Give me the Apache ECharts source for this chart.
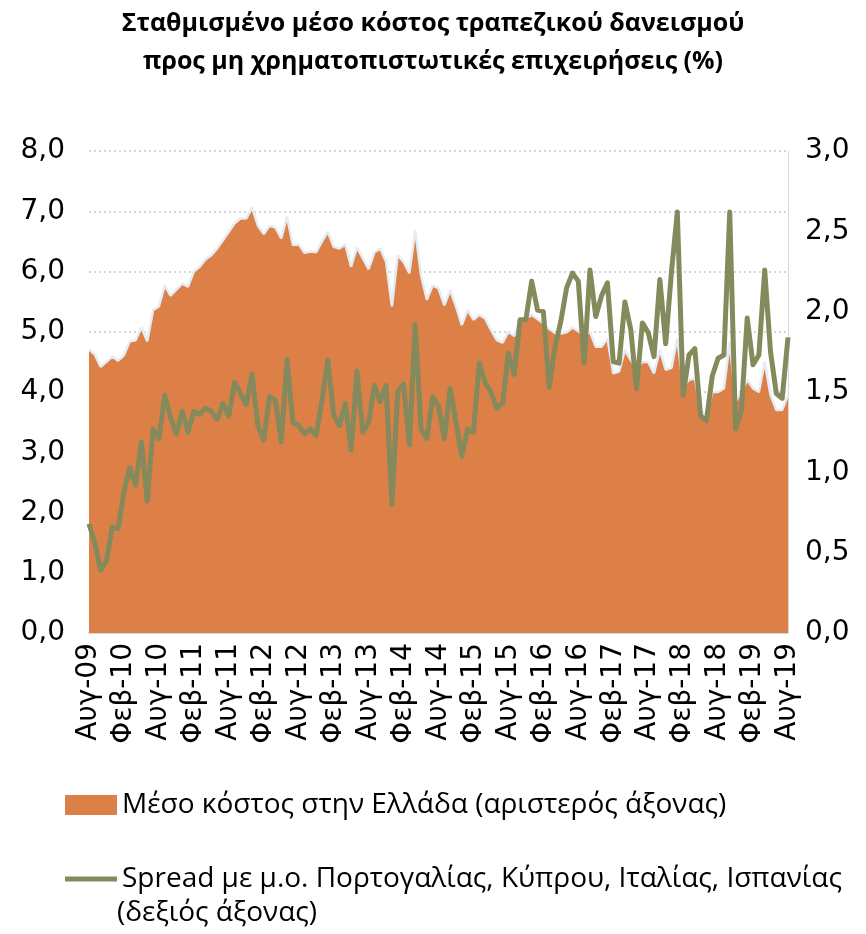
<!DOCTYPE html>
<html>
<head>
<meta charset="utf-8">
<script src="https://cdn.jsdelivr.net/npm/echarts@6/dist/echarts.min.js"></script>
<style>
  html, body { margin: 0; padding: 0; background: #fff; }
  #chart { width: 866px; height: 934px; }
</style>
</head>
<body>
<div id="chart"></div>
<script>
// μήνες (ελληνικές συντομογραφίες)
const months = ['Ιαν', 'Φεβ', 'Μαρ', 'Απρ', 'Μαϊ', 'Ιουν', 'Ιουλ', 'Αυγ', 'Σεπ', 'Οκτ', 'Νοε', 'Δεκ'];

// Αυγ-09 ... Αυγ-19, μηνιαία
const categories = [];
for (let k = 0; k < 121; k++) {
  const m = (7 + k) % 12;
  const y = 9 + Math.floor((7 + k) / 12);
  categories.push(months[m] + '-' + String(y).padStart(2, '0'));
}

// Μέσο κόστος στην Ελλάδα (αριστερός άξονας)
const costGreece = [
  4.71, 4.62, 4.42, 4.50, 4.59, 4.52, 4.61, 4.84, 4.86, 5.07,
  4.84, 5.36, 5.42, 5.77, 5.60, 5.70, 5.80, 5.75, 6.00, 6.08,
  6.20, 6.27, 6.38, 6.52, 6.66, 6.80, 6.88, 6.88, 7.06, 6.76,
  6.62, 6.76, 6.73, 6.55, 6.91, 6.44, 6.45, 6.31, 6.33, 6.32,
  6.50, 6.66, 6.41, 6.38, 6.45, 6.08, 6.40, 6.22, 6.04, 6.32,
  6.38, 6.16, 5.42, 6.27, 6.16, 5.97, 6.69, 5.94, 5.53, 5.77,
  5.72, 5.44, 5.69, 5.42, 5.11, 5.36, 5.20, 5.28, 5.22, 5.03,
  4.86, 4.82, 5.00, 4.93, 5.19, 5.22, 5.28, 5.21, 5.14, 5.05,
  4.98, 4.97, 4.99, 5.07, 5.01, 4.94, 5.00, 4.75, 4.75, 4.89,
  4.31, 4.34, 4.70, 4.53, 4.39, 4.50, 4.50, 4.31, 4.70, 4.37,
  4.40, 4.89, 4.09, 4.20, 4.23, 3.70, 3.59, 4.00, 4.00, 4.06,
  4.83, 3.84, 4.00, 4.20, 4.06, 4.00, 4.50, 3.95, 3.70, 3.70,
  3.95
];

// Spread με μ.ο. Πορτογαλίας, Κύπρου, Ιταλίας, Ισπανίας (δεξιός άξονας)
const spread = [
  0.68, 0.56, 0.39, 0.45, 0.66, 0.65, 0.88, 1.03, 0.92, 1.19,
  0.82, 1.27, 1.21, 1.48, 1.34, 1.24, 1.38, 1.25, 1.38, 1.36,
  1.40, 1.38, 1.33, 1.43, 1.35, 1.56, 1.49, 1.42, 1.61, 1.29,
  1.20, 1.47, 1.45, 1.19, 1.70, 1.31, 1.29, 1.24, 1.27, 1.23,
  1.45, 1.70, 1.36, 1.29, 1.43, 1.14, 1.63, 1.25, 1.31, 1.54,
  1.44, 1.54, 0.80, 1.50, 1.55, 1.17, 1.92, 1.27, 1.21, 1.47,
  1.41, 1.21, 1.52, 1.31, 1.10, 1.27, 1.25, 1.68, 1.56, 1.50,
  1.40, 1.43, 1.74, 1.61, 1.95, 1.95, 2.19, 2.01, 2.00, 1.53,
  1.78, 1.94, 2.15, 2.24, 2.19, 1.68, 2.26, 1.97, 2.10, 2.18,
  1.69, 1.68, 2.06, 1.89, 1.52, 1.93, 1.87, 1.72, 2.20, 1.80,
  2.25, 2.62, 1.48, 1.73, 1.77, 1.35, 1.32, 1.60, 1.71, 1.73,
  2.62, 1.27, 1.39, 1.96, 1.67, 1.73, 2.26, 1.75, 1.49, 1.46,
  1.84
];

const nameCost = 'Μέσο κόστος στην Ελλάδα (αριστερός άξονας)';
const nameSpread = 'Spread με μ.ο. Πορτογαλίας, Κύπρου, Ιταλίας, Ισπανίας';

const fmt = v => v.toFixed(1).replace('.', ',');

const chart = echarts.init(document.getElementById('chart'), null, { renderer: 'canvas' });

chart.setOption({
  animation: false,
  title: {
    text: 'Σταθμισμένο μέσο κόστος τραπεζικού δανεισμού\nπρος μη χρηματοπιστωτικές επιχειρήσεις (%)',
    left: 'center',
    top: 0,
    textStyle: {
      fontFamily: 'Open Sans',
      fontWeight: 'bold',
      fontSize: 25,
      lineHeight: 38,
      color: '#000'
    }
  },
  legend: {
    orient: 'vertical',
    left: 60,
    top: 786,
    itemWidth: 52,
    itemHeight: 20,
    itemGap: 46,
    textStyle: { fontFamily: 'Open Sans', fontSize: 28, color: '#000' },
    data: [
      { name: nameCost, icon: 'rect' },
      { name: nameSpread, icon: 'path://M0,0 H52 V5 H0 Z' }
    ]
  },
  graphic: [{
    type: 'text',
    left: 117,
    top: 899,
    style: { text: '(δεξιός άξονας)', font: '28px "Open Sans"', fill: '#000' }
  }],
  grid: { left: 89, right: 78, top: 151, bottom: 301 },
  xAxis: {
    type: 'category',
    data: categories,
    boundaryGap: false,
    axisLine: { lineStyle: { color: '#d9d9d9', width: 2 } },
    axisTick: { show: false },
    axisLabel: {
      interval: 5,
      rotate: 90,
      margin: 10,
      fontFamily: 'DejaVu Sans',
      fontSize: 28,
      color: '#000'
    }
  },
  yAxis: [{
    type: 'value',
    min: 0, max: 8, interval: 1,
    axisLine: { show: false },
    axisTick: { show: false },
    axisLabel: { formatter: fmt, fontFamily: 'DejaVu Sans', fontSize: 28, color: '#000', margin: 24 },
    splitLine: { lineStyle: { color: '#c8c8c8', type: [2, 3], width: 1.5 } }
  }, {
    type: 'value',
    min: 0, max: 3, interval: 0.5,
    axisLine: { show: true, lineStyle: { color: '#d9d9d9', width: 1 } },
    axisTick: { show: false },
    axisLabel: { formatter: fmt, fontFamily: 'DejaVu Sans', fontSize: 28, color: '#000', margin: 17 },
    splitLine: { show: false }
  }],
  series: [{
    name: nameCost,
    type: 'line',
    yAxisIndex: 0,
    data: costGreece,
    symbol: 'none',
    lineStyle: { color: '#e4ecf5', width: 2.5 },
    itemStyle: { color: '#dd8047' },
    areaStyle: { color: '#dd8047', opacity: 1 }
  }, {
    name: nameSpread,
    type: 'line',
    yAxisIndex: 1,
    data: spread,
    symbol: 'none',
    lineStyle: { color: '#858a5c', width: 5, join: 'round' },
    itemStyle: { color: '#858a5c' }
  }]
});
</script>
</body>
</html>
